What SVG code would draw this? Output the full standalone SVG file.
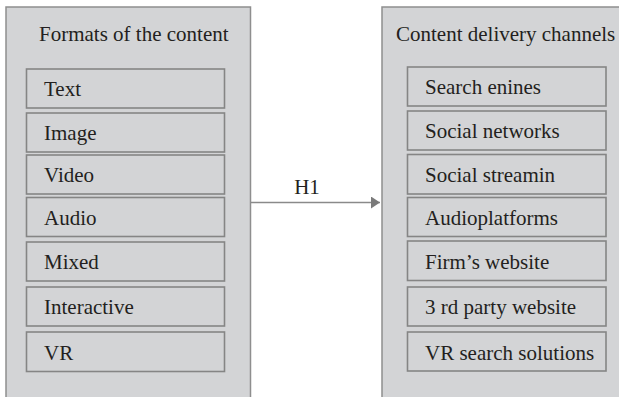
<svg xmlns="http://www.w3.org/2000/svg" width="619" height="397" viewBox="0 0 619 397">
<style>
.outer{fill:#d3d4d6;stroke:#8e8e8e;stroke-width:1.5}
.item{fill:#d3d4d6;stroke:#858585;stroke-width:1.6}
text{font-family:'Liberation Serif','Times New Roman',serif;font-size:21px;fill:#231f20}
.conn{stroke:#8a8a8a;stroke-width:1.5;fill:none}
</style>
<defs>
<marker id="ah" markerUnits="userSpaceOnUse" markerWidth="10" markerHeight="12" refX="9" refY="6" orient="auto">
<path d="M0,0 L9,6 L0,12 Z" fill="#7a7a7a"/>
</marker>
</defs>
<rect width="619" height="397" fill="#ffffff"/>
<g id="formats">
<rect class="outer" x="6" y="7" width="244.5" height="400"/>
<text x="39" y="41">Formats of the content</text>
<g id="f-text"><rect class="item" x="26.5" y="69" width="198" height="39"/><text x="44" y="96">Text</text></g>
<g id="f-image"><rect class="item" x="26.5" y="113" width="198" height="39"/><text x="44" y="140">Image</text></g>
<g id="f-video"><rect class="item" x="26.5" y="155" width="198" height="39"/><text x="44" y="182">Video</text></g>
<g id="f-audio"><rect class="item" x="26.5" y="197.5" width="198" height="39"/><text x="44" y="225">Audio</text></g>
<g id="f-mixed"><rect class="item" x="26.5" y="242" width="198" height="39"/><text x="44" y="269">Mixed</text></g>
<g id="f-interactive"><rect class="item" x="26.5" y="287" width="198" height="39"/><text x="44" y="314">Interactive</text></g>
<g id="f-vr"><rect class="item" x="26.5" y="332" width="198" height="39.5"/><text x="44" y="359.5">VR</text></g>
</g>
<g id="channels">
<rect class="outer" x="382" y="7" width="250" height="400"/>
<text x="396" y="41">Content delivery channels</text>
<g id="c-search"><rect class="item" x="407.5" y="67" width="198.5" height="39"/><text x="425" y="94">Search enines</text></g>
<g id="c-social"><rect class="item" x="407.5" y="111" width="198.5" height="39"/><text x="425" y="138">Social networks</text></g>
<g id="c-stream"><rect class="item" x="407.5" y="154.5" width="198.5" height="39.5"/><text x="425" y="182">Social streamin</text></g>
<g id="c-audio"><rect class="item" x="407.5" y="197.5" width="198.5" height="39"/><text x="425" y="225">Audioplatforms</text></g>
<g id="c-firm"><rect class="item" x="407.5" y="241" width="198.5" height="39.5"/><text x="425" y="269">Firm’s website</text></g>
<g id="c-third"><rect class="item" x="407.5" y="287" width="198.5" height="39"/><text x="425" y="314">3 rd party website</text></g>
<g id="c-vr"><rect class="item" x="407.5" y="332" width="198.5" height="39"/><text x="425" y="359.5">VR search solutions</text></g>
</g>
<g id="connectors">
<line class="conn" x1="251" y1="202.5" x2="380" y2="202.5" marker-end="url(#ah)"/>
<text x="307" y="194" text-anchor="middle">H1</text>
</g>
</svg>
